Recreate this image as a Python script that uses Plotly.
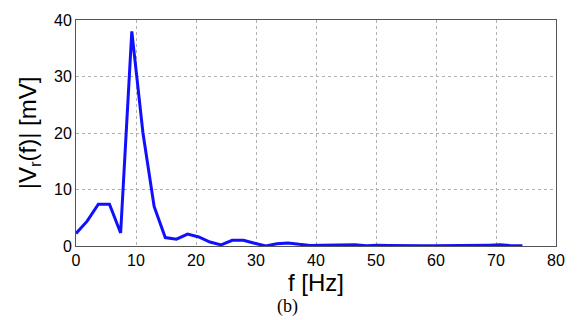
import plotly.graph_objects as go

freq = [0, 1.86, 3.72, 5.58, 7.44, 9.3, 11.16, 13.02, 14.88, 16.74, 18.6, 20.46,
        22.32, 24.18, 26.04, 27.9, 29.76, 31.62, 33.48, 35.34, 37.2, 39.06, 40.92,
        42.78, 44.64, 46.5, 48.36, 50.22, 52.08, 53.94, 55.8, 57.66, 59.52, 61.38,
        63.24, 65.1, 66.96, 68.82, 70.68, 72.54, 74.4]
amp = [2.2, 4.4, 7.4, 7.4, 2.3, 38.0, 20.0, 7.0, 1.5, 1.2, 2.1, 1.6,
       0.7, 0.2, 1.0, 1.0, 0.5, 0.0, 0.4, 0.55, 0.3, 0.1, 0.15,
       0.2, 0.25, 0.2, 0.05, 0.15, 0.1, 0.05, 0.08, 0.05, 0.05, 0.05,
       0.05, 0.05, 0.1, 0.15, 0.2, 0.05, 0.05]

fig = go.Figure()
fig.add_trace(go.Scatter(x=freq, y=amp, mode="lines",
                         line=dict(color="#1010ff", width=3)))

axis_common = dict(showline=True, linecolor="#555555", linewidth=1, mirror=True,
                   showgrid=True, gridcolor="#b0b0b0", griddash="dot", gridwidth=1,
                   ticks="", zeroline=False,
                   tickfont=dict(family="Liberation Sans, Arial", size=16, color="black"))

fig.update_layout(
    width=577, height=320,
    margin=dict(l=76, r=16, t=12, b=74),
    plot_bgcolor="white", paper_bgcolor="white",
    showlegend=False,
    xaxis=dict(range=[0, 80], dtick=10, **axis_common,
               title=dict(text="f [Hz]", standoff=4,
                          font=dict(family="Liberation Sans, Arial", size=24, color="black"))),
    yaxis=dict(range=[0, 40], dtick=10, **axis_common,
               title=dict(text="|V<sub>r</sub>(f)| [mV]", standoff=10,
                          font=dict(family="Liberation Sans, Arial", size=24, color="black"))),
    annotations=[dict(text="(b)", xref="paper", yref="paper", x=0.44, y=-0.269,
                      xanchor="center", yanchor="middle", showarrow=False,
                      font=dict(family="Liberation Serif, Times New Roman", size=18, color="black"))],
)

fig.write_html("out.html")
